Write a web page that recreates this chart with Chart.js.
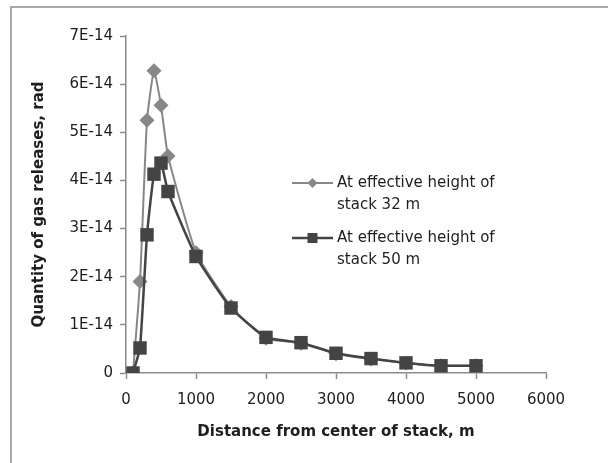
<!DOCTYPE html>
<html>
<head>
<meta charset="utf-8">
<script src="https://cdn.jsdelivr.net/npm/chart.js@4/dist/chart.umd.min.js"></script>
<style>
  html, body { margin: 0; padding: 0; background: #ffffff; }
  #wrap { width: 608px; height: 463px; position: relative; }
</style>
</head>
<body>
<div id="wrap"><canvas id="c" width="608" height="463"></canvas></div>
<script>
// ---- data ----
const distances = [100, 200, 300, 400, 500, 600, 1000, 1500, 2000, 2500, 3000, 3500, 4000, 4500, 5000];
const series32 = [0, 1.9e-14, 5.25e-14, 6.28e-14, 5.56e-14, 4.51e-14, 2.5e-14, 1.38e-14, 0.72e-14, 0.62e-14, 0.4e-14, 0.29e-14, 0.21e-14, 0.15e-14, 0.15e-14];
const series50 = [0, 0.52e-14, 2.87e-14, 4.13e-14, 4.36e-14, 3.77e-14, 2.42e-14, 1.35e-14, 0.74e-14, 0.63e-14, 0.41e-14, 0.3e-14, 0.21e-14, 0.15e-14, 0.15e-14];
const seriesNames = ['At effective height of stack 32 m', 'At effective height of stack 50 m'];
const xTickLabels = ['0', '1000', '2000', '3000', '4000', '5000', '6000'];
const yTickLabels = ['0', '1E-14', '2E-14', '3E-14', '4E-14', '5E-14', '6E-14', '7E-14'];
const xTitle = 'Distance from center of stack, m';
const yTitle = 'Quantity of gas releases, rad';

// ---- styles ----
const color32 = '#878787';
const color50 = '#444444';
const axisColor = '#8c8c8c';
const textColor = '#1e1e1e';
const tickFont = { family: 'DejaVu Sans', size: 15 };
const titleFont = { family: 'DejaVu Sans', size: 15, weight: 'bold' };

function toPoints(xs, ys) { return xs.map((x, i) => ({ x: x, y: ys[i] })); }

const framePlugin = {
  id: 'frame',
  beforeDraw(chart) {
    const ctx = chart.ctx;
    ctx.save();
    ctx.strokeStyle = '#a9a9a9';
    ctx.lineWidth = 2;
    ctx.strokeRect(11, 7, 700, 700);
    ctx.restore();
  }
};

function drawMarker(ctx, style, x, y, r, color) {
  ctx.fillStyle = color;
  ctx.beginPath();
  if (style === 'diamond') {
    ctx.moveTo(x, y - r); ctx.lineTo(x + r, y); ctx.lineTo(x, y + r); ctx.lineTo(x - r, y);
  } else {
    ctx.rect(x - r, y - r, 2 * r, 2 * r);
  }
  ctx.closePath();
  ctx.fill();
}

function wrapText(ctx, text, maxW) {
  const words = text.split(' ');
  const lines = [];
  let cur = '';
  words.forEach(w => {
    const t = cur ? cur + ' ' + w : w;
    if (ctx.measureText(t).width > maxW && cur) { lines.push(cur); cur = w; } else { cur = t; }
  });
  if (cur) lines.push(cur);
  return lines;
}

const legendPlugin = {
  id: 'customLegend',
  afterDraw(chart) {
    const ctx = chart.ctx;
    const items = [
      { ds: 0, y: 183, style: 'diamond', r: 5, lw: 2 },
      { ds: 1, y: 238, style: 'square', r: 5, lw: 2.5 }
    ];
    ctx.save();
    ctx.font = '15px "DejaVu Sans"';
    ctx.textBaseline = 'middle';
    ctx.textAlign = 'left';
    items.forEach(it => {
      const ds = chart.data.datasets[it.ds];
      ctx.strokeStyle = ds.borderColor;
      ctx.lineWidth = it.lw;
      ctx.beginPath();
      ctx.moveTo(292, it.y); ctx.lineTo(333, it.y);
      ctx.stroke();
      drawMarker(ctx, it.style, 312.5, it.y, it.r, ds.backgroundColor);
      ctx.fillStyle = textColor;
      const lines = wrapText(ctx, ds.label, 172);
      lines.forEach((ln, k) => ctx.fillText(ln, 337, it.y + k * 22));
    });
    ctx.restore();
  }
};

new Chart(document.getElementById('c'), {
  type: 'line',
  data: {
    datasets: [
      {
        label: seriesNames[0],
        data: toPoints(distances, series32),
        borderColor: color32,
        backgroundColor: color32,
        borderWidth: 2,
        pointStyle: 'rectRot',
        pointRadius: 7.5,
        pointBorderWidth: 0,
        tension: 0.15,
        order: 1
      },
      {
        label: seriesNames[1],
        data: toPoints(distances, series50),
        borderColor: color50,
        backgroundColor: color50,
        borderWidth: 2.5,
        pointStyle: 'rect',
        pointRadius: 9.5,
        pointBorderWidth: 0,
        tension: 0.15,
        order: 0
      }
    ]
  },
  options: {
    responsive: false,
    animation: false,
    devicePixelRatio: 1,
    layout: { padding: { left: 0, top: 36, right: 62, bottom: 0 } },
    plugins: { legend: { display: false }, tooltip: { enabled: false } },
    scales: {
      x: {
        type: 'linear',
        min: 0, max: 6000,
        afterFit(scale) { scale.height = 90; },
        afterBuildTicks(scale) { scale.ticks = xTickLabels.map(t => ({ value: Number(t) })); },
        ticks: {
          stepSize: 1000,
          color: textColor,
          font: tickFont,
          padding: 12,
          maxRotation: 0,
          callback: (v, i) => xTickLabels[i]
        },
        grid: { drawOnChartArea: false, drawTicks: true, tickLength: 6, color: axisColor, tickWidth: 1.5 },
        border: { display: true, color: axisColor, width: 1.5 },
        title: { display: true, text: xTitle, color: textColor, font: titleFont, padding: { top: 4, bottom: 22 } }
      },
      y: {
        type: 'linear',
        min: 0, max: 7e-14,
        afterFit(scale) { scale.width = 126; },
        afterBuildTicks(scale) { scale.ticks = yTickLabels.map((t, i) => ({ value: i * 1e-14 })); },
        ticks: {
          color: textColor,
          font: tickFont,
          padding: 7,
          callback: (v, i) => yTickLabels[i]
        },
        grid: { drawOnChartArea: false, drawTicks: true, tickLength: 6, color: axisColor, tickWidth: 1.5 },
        border: { display: true, color: axisColor, width: 1.5 },
        title: { display: true, text: yTitle, color: textColor, font: titleFont, padding: { top: 30, bottom: 4 } }
      }
    }
  },
  plugins: [framePlugin, legendPlugin]
});
</script>
</body>
</html>
